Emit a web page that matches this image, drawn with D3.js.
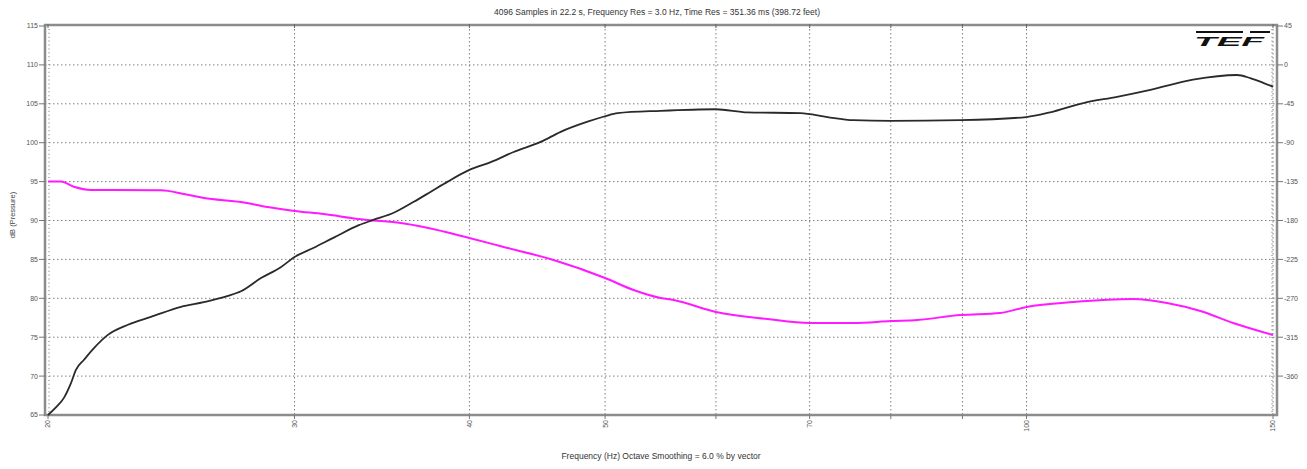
<!DOCTYPE html>
<html>
<head>
<meta charset="utf-8">
<script src="https://cdn.jsdelivr.net/npm/d3@7"></script>
<style>
  body { margin: 0; background: #fff; }
  svg { display: block; font-family: "Liberation Sans", Arial, sans-serif; }
</style>
</head>
<body>
<svg id="chart" width="1307" height="469"></svg>
<script>
// magnitude curve (left axis, dB)
var magFreq = [20, 20.27, 20.53, 20.77, 20.94, 21.22, 21.57, 22.07, 22.81, 23.69, 24.89, 25.84, 26.89, 27.47, 28.39, 29.33, 30,
  30.97, 32, 33.35, 34.18, 35.32, 36.5, 37.54, 38.6, 40, 41.43, 43.02, 44.97, 46.48, 48.58, 50, 51.04, 54.78, 60, 63.19, 68.95,
  72.07, 75.23, 80, 89.7, 100, 103.98, 109.8, 116.07, 122.6, 131.5, 141.4, 144.5, 147.6, 150];
var magDb = [65.0, 66.0, 67.2, 69.1, 70.8, 72.1, 73.6, 75.3, 76.6, 77.6, 78.9, 79.5, 80.3, 80.9, 82.6, 84.0, 85.3,
  86.5, 87.8, 89.4, 90.1, 91.0, 92.4, 93.7, 95.0, 96.5, 97.5, 98.8, 100.1, 101.4, 102.7, 103.4, 103.8, 104.1, 104.3, 103.9, 103.8,
  103.3, 102.9, 102.8, 102.9, 103.3, 103.9, 105.1, 105.9, 106.8, 108.1, 108.7, 108.3, 107.7, 107.2];

// phase curve (right axis, degrees)
var phaseFreq = [20, 20.43, 20.87, 21.46, 24.09, 25.01, 25.84, 27.47, 28.71, 30, 31.48, 33.35, 33.84, 35.73, 37.1, 40,
  42.32, 45.94, 50, 52.4, 54.78, 55.97, 60, 65.31, 70, 75.23, 80, 83.56, 89.7, 95.76, 100, 108, 119.2, 126, 133.1, 140.5, 150];
var phaseDeg = [-135, -135, -141, -144.7, -145, -149.3, -154, -158.6, -164.4, -169, -172.5, -178.3, -179.4, -182.9, -187.5, -200.2,
  -210.6, -225.7, -246.5, -260.4, -269.6, -272, -285.8, -294, -298.6, -298.6, -296.3, -295, -289.3, -287, -280, -274.3, -270.8, -275.4, -284.7, -298.6, -312.5];

var freqGrid = [20, 30, 40, 50, 60, 70, 80, 90, 100, 150];
var freqLabels = [20, 30, 40, 50, 70, 100, 150];
var dbTicks = [65, 70, 75, 80, 85, 90, 95, 100, 105, 110, 115];
var phaseTicks = [45, 0, -45, -90, -135, -180, -225, -270, -315, -360];

var titleText = "4096 Samples in 22.2 s, Frequency Res = 3.0 Hz, Time Res = 351.36 ms (398.72 feet)";
var xTitle = "Frequency (Hz) Octave Smoothing = 6.0 % by vector";
var yTitle = "dB (Pressure)";

var svg = d3.select('#chart');

// plot frame
var frame = { left: 45, right: 1277, top: 25, bottom: 415 };

var x = d3.scaleLog().domain([20, 150]).range([48, 1273]);
var yDb = d3.scaleLinear().domain([65, 115]).range([415, 26]);
var yPh = d3.scaleLinear().domain([-405, 45]).range([415, 26]);

var grid = svg.append('g');

// horizontal grid
grid.selectAll('line.h')
  .data(dbTicks.slice(1, -1))
  .enter().append('line')
  .attr('x1', frame.left).attr('x2', frame.right)
  .attr('y1', function (d) { return yDb(d); })
  .attr('y2', function (d) { return yDb(d); })
  .attr('stroke', '#808080')
  .attr('stroke-width', 1)
  .attr('stroke-dasharray', '1.5,2.5');

// vertical grid
grid.selectAll('line.v')
  .data(freqGrid.slice(1))
  .enter().append('line')
  .attr('x1', function (d) { return x(d); })
  .attr('x2', function (d) { return x(d); })
  .attr('y1', frame.top).attr('y2', frame.bottom)
  .attr('stroke', '#808080')
  .attr('stroke-width', 1)
  .attr('stroke-dasharray', '1.5,2.5');

// minor dotted ticks just inside left and right edges
[49, 1272].forEach(function (xx) {
  grid.append('line')
    .attr('x1', xx).attr('x2', xx)
    .attr('y1', frame.top).attr('y2', frame.bottom)
    .attr('stroke', '#888')
    .attr('stroke-width', 1.2)
    .attr('stroke-dasharray', '1,2.9');
});

// frame
svg.append('rect')
  .attr('x', frame.left).attr('y', frame.top)
  .attr('width', frame.right - frame.left)
  .attr('height', frame.bottom - frame.top)
  .attr('fill', 'none')
  .attr('stroke', '#8c8c8c')
  .attr('stroke-width', 2.5);

// left axis
var leftAxis = svg.append('g');
leftAxis.selectAll('line')
  .data(dbTicks).enter().append('line')
  .attr('x1', 39).attr('x2', frame.left)
  .attr('y1', function (d) { return yDb(d); })
  .attr('y2', function (d) { return yDb(d); })
  .attr('stroke', '#777');
leftAxis.selectAll('text')
  .data(dbTicks).enter().append('text')
  .attr('x', 38)
  .attr('y', function (d) { return yDb(d); })
  .attr('dy', '0.35em')
  .attr('text-anchor', 'end')
  .style('font-size', '7px')
  .style('fill', '#555')
  .text(function (d) { return d; });

// right axis
var rightAxis = svg.append('g');
rightAxis.selectAll('line')
  .data(phaseTicks).enter().append('line')
  .attr('x1', frame.right).attr('x2', 1283)
  .attr('y1', function (d) { return yPh(d); })
  .attr('y2', function (d) { return yPh(d); })
  .attr('stroke', '#777');
rightAxis.selectAll('text')
  .data(phaseTicks).enter().append('text')
  .attr('x', 1284)
  .attr('y', function (d) { return yPh(d); })
  .attr('dy', '0.35em')
  .attr('text-anchor', 'start')
  .style('font-size', '7px')
  .style('fill', '#555')
  .text(function (d) { return d; });

// bottom and top ticks
var xAxis = svg.append('g');
xAxis.selectAll('line.b')
  .data(freqGrid).enter().append('line')
  .attr('x1', function (d) { return x(d); })
  .attr('x2', function (d) { return x(d); })
  .attr('y1', frame.bottom).attr('y2', frame.bottom + 4)
  .attr('stroke', '#777');
xAxis.selectAll('line.t')
  .data(freqGrid).enter().append('line')
  .attr('x1', function (d) { return x(d); })
  .attr('x2', function (d) { return x(d); })
  .attr('y1', frame.top - 1).attr('y2', frame.top + 3)
  .attr('stroke', '#666');
xAxis.selectAll('text')
  .data(freqLabels).enter().append('text')
  .attr('transform', function (d) { return 'translate(' + x(d) + ',' + (frame.bottom + 5) + ') rotate(-90)'; })
  .attr('dy', '0.35em')
  .attr('text-anchor', 'end')
  .style('font-size', '7px')
  .style('fill', '#555')
  .text(function (d) { return d; });

// curves
var magLine = d3.line()
  .x(function (d) { return x(d[0]); })
  .y(function (d) { return yDb(d[1]); })
  .curve(d3.curveMonotoneX);
var phaseLine = d3.line()
  .x(function (d) { return x(d[0]); })
  .y(function (d) { return yPh(d[1]); })
  .curve(d3.curveMonotoneX);

svg.append('path')
  .datum(d3.zip(phaseFreq, phaseDeg))
  .attr('d', phaseLine)
  .attr('fill', 'none')
  .attr('stroke', '#ff1aff')
  .attr('stroke-width', 2);

svg.append('path')
  .datum(d3.zip(magFreq, magDb))
  .attr('d', magLine)
  .attr('fill', 'none')
  .attr('stroke', '#2a2a2a')
  .attr('stroke-width', 1.8);

// titles
svg.append('text')
  .attr('x', 657).attr('y', 15)
  .attr('text-anchor', 'middle')
  .style('font-size', '8.5px')
  .style('fill', '#333')
  .text(titleText);

svg.append('text')
  .attr('x', 661).attr('y', 459)
  .attr('text-anchor', 'middle')
  .style('font-size', '8.5px')
  .style('fill', '#333')
  .text(xTitle);

svg.append('text')
  .attr('transform', 'translate(15,215) rotate(-90)')
  .attr('text-anchor', 'middle')
  .style('font-size', '7.5px')
  .style('fill', '#444')
  .text(yTitle);

// TEF logo, top right
var logo = svg.append('g');
logo.append('line').attr('x1', 1196).attr('x2', 1243).attr('y1', 32).attr('y2', 32)
  .attr('stroke', '#111').attr('stroke-width', 2);
logo.append('line').attr('x1', 1250).attr('x2', 1270).attr('y1', 32).attr('y2', 32)
  .attr('stroke', '#111').attr('stroke-width', 2);
logo.append('text')
  .attr('x', 1194).attr('y', 46)
  .attr('textLength', 70)
  .attr('lengthAdjust', 'spacingAndGlyphs')
  .style('font-size', '13px')
  .style('font-weight', 'bold')
  .style('font-style', 'italic')
  .style('fill', '#111')
  .text('TEF');
</script>
</body>
</html>
